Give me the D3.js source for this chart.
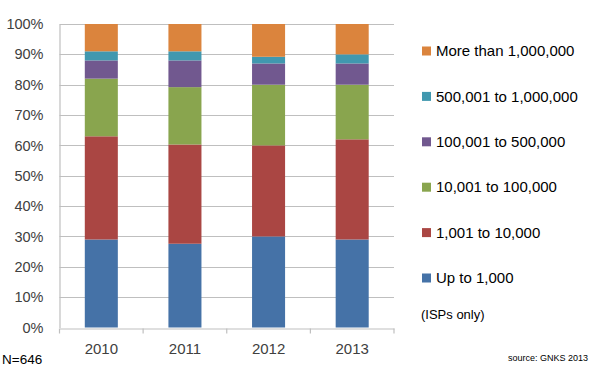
<!DOCTYPE html>
<html>
<head>
<meta charset="utf-8">
<script src="https://cdn.jsdelivr.net/npm/d3@7"></script>
<style>
    body { margin: 0; background: #fff; }
    svg { display: block; font-family: "Liberation Sans", Arial, sans-serif; }
</style>
</head>
<body>
<div id="chart"></div>
<script>
// data (percent of ISPs per size class)
const years = ["2010", "2011", "2012", "2013"];
const series = ["Up to 1,000", "1,001 to 10,000", "10,001 to 100,000",
    "100,001 to 500,000", "500,001 to 1,000,000", "More than 1,000,000"];
const upTo1k = [29, 27.6, 30, 29];
const to10k = [34, 32.7, 30, 33];
const to100k = [19, 18.9, 20, 18];
const to500k = [6, 8.8, 7, 7];
const to1m = [3, 3, 2.2, 3];
const over1m = [9, 9, 10.8, 10];
const yTicks = [0, 10, 20, 30, 40, 50, 60, 70, 80, 90, 100];

const colors = ["#4572A7", "#AA4643", "#89A54E", "#71588F", "#4198AF", "#DB843D"];

const width = 592, height = 370;
const plotLeft = 59.5, plotRight = 394, plotTop = 24, plotBottom = 327.5;

const svg = d3.select("#chart").append("svg")
    .attr("width", width)
    .attr("height", height);

// build a table for d3.stack
const table = years.map((yr, i) => {
    const row = {year: yr};
    [upTo1k, to10k, to100k, to500k, to1m, over1m].forEach((arr, k) => {
        row[series[k]] = arr[i];
    });
    return row;
});
const stacked = d3.stack().keys(series)(table);

const x = d3.scaleBand().domain(years).range([plotLeft, plotRight]);
const y = d3.scaleLinear().domain([0, 100]).range([plotBottom, plotTop]);
const barW = x.bandwidth() * 0.395;

// gridlines
svg.append("g")
    .selectAll("line")
    .data(yTicks.filter(d => d > 0))
    .join("line")
    .attr("x1", plotLeft).attr("x2", plotRight)
    .attr("y1", d => Math.round(y(d)) + 0.5).attr("y2", d => Math.round(y(d)) + 0.5)
    .attr("stroke", "#bfbfbf")
    .attr("stroke-width", 1.2);

// y axis
const yAxis = svg.append("g")
    .attr("transform", `translate(${plotLeft},0)`)
    .call(d3.axisLeft(y).tickValues(yTicks).tickFormat(d => d + "%").tickSize(0).tickPadding(16));
yAxis.select(".domain").attr("stroke", "#bfbfbf").attr("stroke-width", 1.2);
yAxis.selectAll("text")
    .style("font-size", "14.5px")
    .attr("fill", "#404040");

// bars
svg.append("g")
    .selectAll("g")
    .data(stacked)
    .join("g")
    .attr("fill", (d, i) => colors[i])
    .selectAll("rect")
    .data(d => d)
    .join("rect")
    .attr("x", d => x(d.data.year) + (x.bandwidth() - barW) / 2)
    .attr("y", d => y(d[1]))
    .attr("width", barW)
    .attr("height", d => y(d[0]) - y(d[1]));

// x axis
const xAxis = svg.append("g")
    .attr("transform", `translate(0,${Math.round(plotBottom) + 0.5})`)
    .call(d3.axisBottom(x).tickSize(0).tickPadding(15));
xAxis.select(".domain").attr("stroke", "#bfbfbf").attr("stroke-width", 1.2);
xAxis.selectAll("text")
    .style("font-size", "15px")
    .attr("fill", "#404040");
// tick marks between categories
xAxis.append("g")
    .selectAll("line")
    .data(d3.range(years.length + 1))
    .join("line")
    .attr("x1", i => plotLeft + i * x.step()).attr("x2", i => plotLeft + i * x.step())
    .attr("y1", 0).attr("y2", 5)
    .attr("stroke", "#bfbfbf")
    .attr("stroke-width", 1.2);

// legend (top entry = top of stack)
const legend = svg.append("g");
const legendRows = series.slice().reverse();
legendRows.forEach((name, i) => {
    const ly = 51 + i * 45.4;
    legend.append("rect")
        .attr("x", 422).attr("y", ly - 4.5)
        .attr("width", 9).attr("height", 9)
        .attr("fill", colors[series.length - 1 - i]);
    legend.append("text")
        .attr("x", 436).attr("y", ly)
        .attr("dy", "0.35em")
        .style("font-size", "15px")
        .attr("fill", "#000")
        .text(name);
});
legend.append("text")
    .attr("x", 421).attr("y", 314)
    .attr("dy", "0.35em")
    .style("font-size", "13px")
    .attr("fill", "#000")
    .text("(ISPs only)");

svg.append("text")
    .attr("x", 2).attr("y", 364)
    .style("font-size", "13.5px")
    .text("N=646");

svg.append("text")
    .attr("x", 588).attr("y", 361)
    .attr("text-anchor", "end")
    .style("font-size", "9px")
    .text("source: GNKS 2013");
</script>
</body>
</html>
